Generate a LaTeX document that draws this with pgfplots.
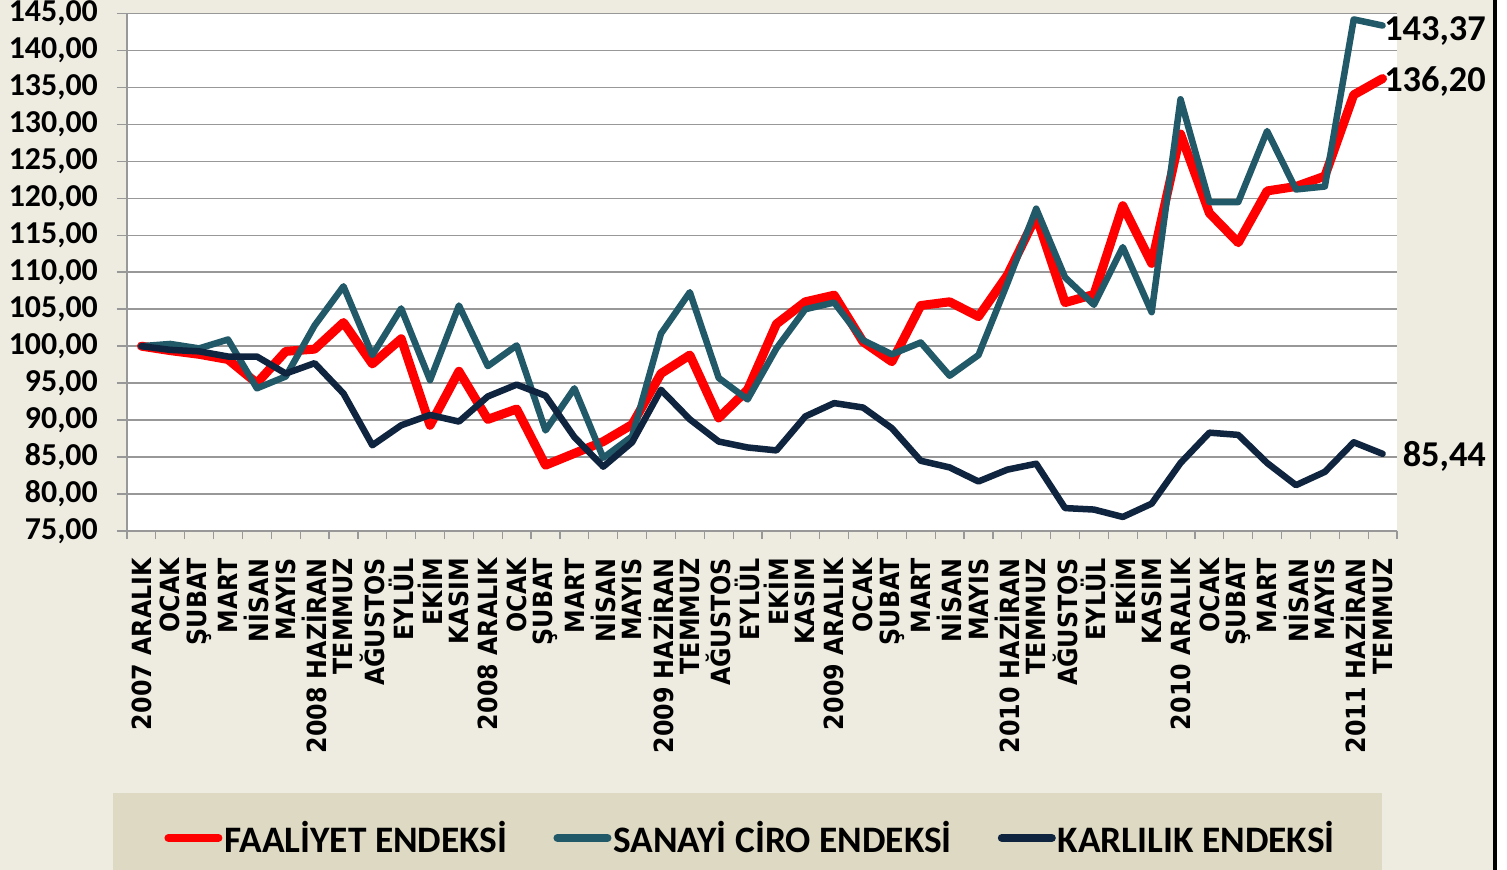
\documentclass[border=0pt]{standalone}
\usepackage{fontspec}
\setmainfont{Carlito}
\newfontfamily\xlab{DejaVu Sans Condensed Bold}
\usepackage{pgfplots}
\usepackage{pgfplotstable}
\pgfplotsset{compat=1.18}
\definecolor{bgc}{HTML}{EEECE1}
\definecolor{legbg}{HTML}{DDD9C3}
\definecolor{cteal}{HTML}{215968}
\definecolor{cnavy}{HTML}{0F243E}
\definecolor{cred}{HTML}{FF0000}
\definecolor{gridgray}{HTML}{989898}

\pgfplotstableread{
x fa sc ka
0 100.0 100.0 100.0
1 99.4 100.3 99.5
2 98.9 99.7 99.3
3 98.2 100.9 98.6
4 95.0 94.3 98.6
5 99.3 95.9 96.3
6 99.6 102.8 97.7
7 103.2 108.1 93.6
8 97.6 98.8 86.6
9 101.0 105.1 89.3
10 89.3 95.4 90.7
11 96.6 105.5 89.8
12 90.1 97.3 93.2
13 91.5 100.1 94.8
14 83.9 88.6 93.3
15 85.5 94.3 87.7
16 87.1 84.9 83.7
17 89.4 87.8 87.0
18 96.3 101.7 94.1
19 98.8 107.3 90.1
20 90.3 95.7 87.1
21 94.1 92.8 86.3
22 103.0 99.7 85.9
23 106.0 105.0 90.5
24 106.9 105.9 92.3
25 100.6 100.8 91.7
26 97.9 98.9 88.9
27 105.5 100.5 84.5
28 106.0 96.0 83.6
29 104.0 98.8 81.7
30 109.6 108.5 83.3
31 117.6 118.6 84.1
32 105.9 109.3 78.1
33 107.0 105.6 77.9
34 119.0 113.4 76.9
35 111.2 104.6 78.7
36 128.7 133.4 84.2
37 118.0 119.5 88.3
38 114.0 119.5 88.0
39 121.0 129.1 84.2
40 121.6 121.2 81.2
41 123.0 121.6 83.0
42 134.0 144.2 87.0
43 136.20 143.37 85.44
}\datatable

\begin{document}
\begin{tikzpicture}
\path[use as bounding box] (0bp,0bp) rectangle (1507bp,870bp);
\fill[bgc] (0bp,0bp) rectangle (1507bp,870bp);
\fill[legbg] (113bp,0bp) rectangle (1382bp,77bp);
\fill[black] (1493bp,0bp) rectangle (1497bp,870bp);
\fill[white] (1497bp,0bp) rectangle (1507bp,870bp);
\begin{axis}[
  at={(127bp,339bp)}, anchor=south west,
  scale only axis, width=1270bp, height=517.5bp,
  xmin=-0.5, xmax=43.5, ymin=75, ymax=145,
  clip=false,
  axis background/.style={fill=white},
  axis lines=left,
  axis line style={draw=gridgray, line width=1.5bp, -},
  ytick={75,80,...,145},
  ymajorgrids=true,
  major grid style={draw=gridgray, line width=1.5bp},
  tick align=outside,
  major tick length=10bp,
  minor tick length=8bp,
  major y tick style={draw=gridgray, line width=1.5bp},
  major x tick style={draw=none},
  minor x tick style={draw=gridgray, line width=1.2bp},
  xtick={0,...,43},
  minor xtick={-0.5,0.5,...,43.5},
  xticklabels={2007 ARALIK,OCAK,ŞUBAT,MART,NİSAN,MAYIS,2008 HAZİRAN,TEMMUZ,AĞUSTOS,EYLÜL,EKİM,KASIM,2008 ARALIK,OCAK,ŞUBAT,MART,NİSAN,MAYIS,2009 HAZİRAN,TEMMUZ,AĞUSTOS,EYLÜL,EKİM,KASIM,2009 ARALIK,OCAK,ŞUBAT,MART,NİSAN,MAYIS,2010 HAZİRAN,TEMMUZ,AĞUSTOS,EYLÜL,EKİM,KASIM,2010 ARALIK,OCAK,ŞUBAT,MART,NİSAN,MAYIS,2011 HAZİRAN,TEMMUZ},
  xticklabel style={rotate=90, anchor=east, inner sep=0pt, font=\xlab\fontsize{26.5}{26.5}\selectfont},
  xticklabel shift=17bp,
  yticklabel style={anchor=east, inner sep=0pt, font=\bfseries\fontsize{32}{32}\selectfont},
  yticklabel shift=19bp,
  /pgf/number format/.cd, fixed, fixed zerofill, precision=2, use comma, 1000 sep={}, assume math mode=true,
  /pgfplots/.cd,
  legend style={at={(0.491,-0.593)}, anchor=center, draw=none, fill=none,
    font=\bfseries\fontsize{37.5}{37.5}\selectfont, legend columns=-1,
    /tikz/every even column/.append style={column sep=44bp},
    inner sep=0pt, nodes={inner sep=2bp}},
  legend image code/.code={\draw[#1, line width=8bp, line cap=round] (0bp,0bp) -- (50bp,0bp);},
]
\addplot[cred, line width=9bp, line join=round, line cap=round] table[x=x, y=fa] {\datatable};
\addlegendentry{FAALİYET ENDEKSİ}
\addplot[cteal, line width=6.5bp, line join=round, line cap=round] table[x=x, y=sc] {\datatable};
\addlegendentry{SANAYİ CİRO ENDEKSİ}
\addplot[cnavy, line width=6.5bp, line join=round, line cap=round] table[x=x, y=ka] {\datatable};
\addlegendentry{KARLILIK ENDEKSİ}
\node[anchor=west, inner sep=0pt, font=\bfseries\fontsize{36.5}{36.5}\selectfont, xshift=1.5bp, yshift=-5bp] at (axis cs:43,143.37) {143,37};
\node[anchor=west, inner sep=0pt, font=\bfseries\fontsize{36.5}{36.5}\selectfont, xshift=1.5bp, yshift=-2.5bp] at (axis cs:43,136.20) {136,20};
\node[anchor=west, inner sep=0pt, font=\bfseries\fontsize{36.5}{36.5}\selectfont, xshift=20bp, yshift=-2.5bp] at (axis cs:43,85.44) {85,44};
\end{axis}
\end{tikzpicture}
\end{document}
